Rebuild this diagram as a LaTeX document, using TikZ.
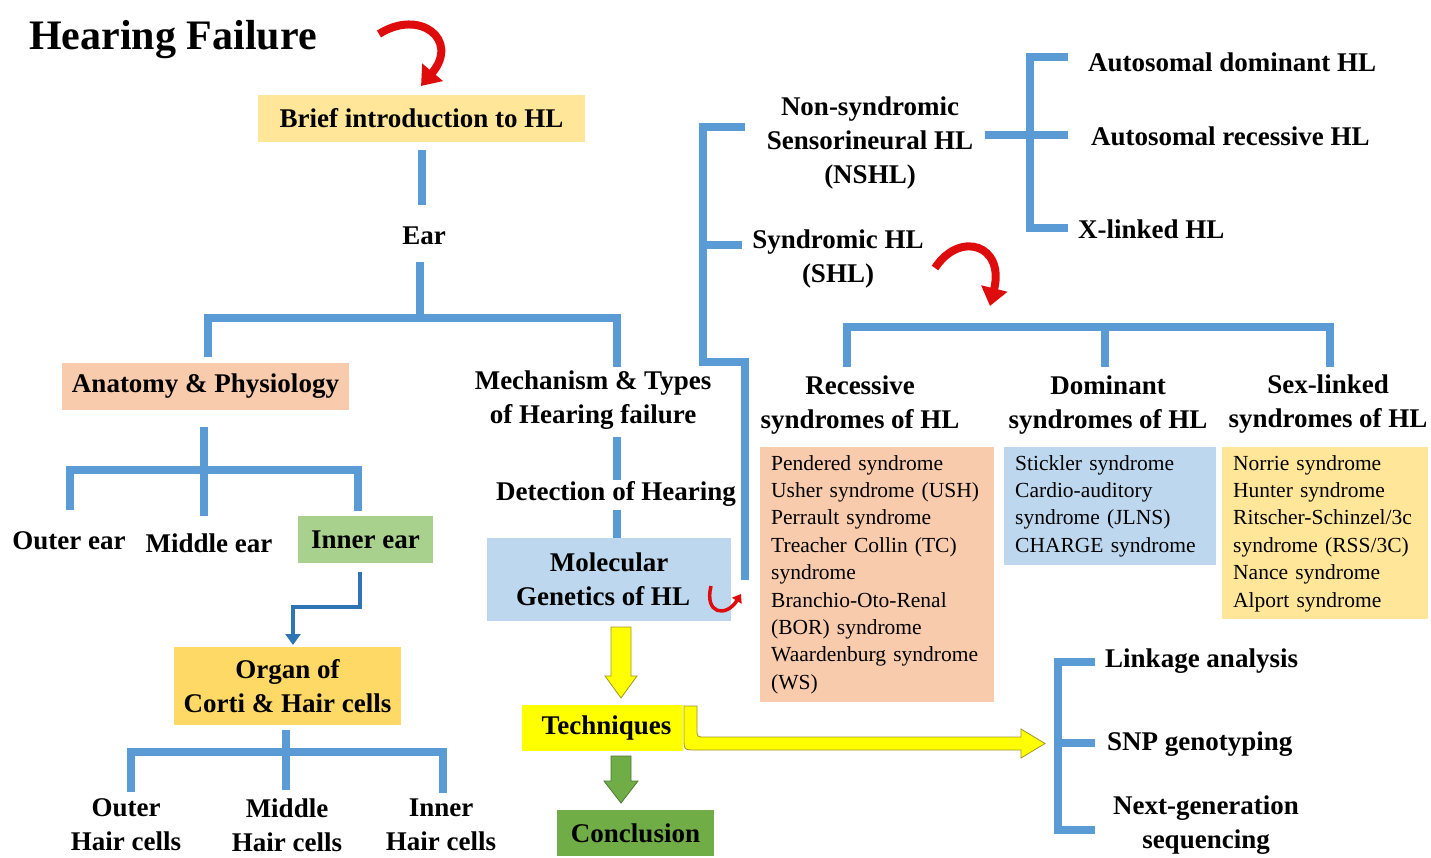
\documentclass[tikz,border=0pt]{standalone}
\usepackage{fontspec}
\setmainfont{Liberation Serif}
\usetikzlibrary{arrows.meta}
\definecolor{barblue}{RGB}{91,155,213}
\definecolor{cLYel}{RGB}{255,230,153}
\definecolor{cPeach}{RGB}{248,203,173}
\definecolor{cGreen}{RGB}{169,209,142}
\definecolor{cGold}{RGB}{255,217,102}
\definecolor{cLBlue}{RGB}{189,215,238}
\definecolor{cYellow}{RGB}{255,255,0}
\definecolor{cDGreen}{RGB}{112,173,71}
\definecolor{cRed}{RGB}{222,12,12}
\definecolor{cArrowBlue}{RGB}{46,117,182}
\definecolor{cOlive}{RGB}{160,150,40}
\begin{document}
\begin{tikzpicture}[x=1pt,y=-1pt,
  lbl/.style={font=\bfseries\fontsize{27}{34}\selectfont, align=center, inner sep=0pt},
  boxn/.style={lbl, inner sep=0pt},
  listn/.style={font=\fontsize{21.5}{27.4}\selectfont, align=left, inner sep=0pt, anchor=north west, text width=230pt},
  bar/.style={line width=8pt, draw=barblue},
  redarr/.style={line width=8pt, draw=cRed, -{Triangle[width=26pt,length=18pt]}},
  blockarr/.style={line width=0.8pt, line join=miter}
]
\useasboundingbox (0,0) rectangle (1431,858);
\fill[white] (0,0) rectangle (1431,858);

% title
\node[lbl, font=\bfseries\fontsize{42}{48}\selectfont] (title) at (173,40) {Hearing Failure};

% left tree
\node[boxn, fill=cLYel, minimum width=327, minimum height=47] (brief) at (421.5,118.5) {Brief introduction to HL};
\node[lbl] (ear) at (424,236) {Ear};
\node[boxn, fill=cPeach, minimum width=287, minimum height=47] (anat) at (205.5,386.5) {Anatomy \& Physiology};
\node[lbl] (mech) at (593,400) {Mechanism \& Types\\of Hearing failure};
\node[lbl] (outer) at (69,541) {Outer ear};
\node[lbl] (middle) at (209,543) {Middle ear};
\node[boxn, fill=cGreen, minimum width=135, minimum height=47] (inner) at (365.5,539.5) {Inner ear};
\node[boxn, fill=cGold, minimum width=227, minimum height=78] (org) at (287.5,686) {Organ of\\Corti \& Hair cells};
\node[lbl] (ohc) at (126,825) {Outer\\Hair cells};
\node[lbl] (mhc) at (287,825) {Middle\\Hair cells};
\node[lbl] (ihc) at (441,825) {Inner\\Hair cells};

% connectors left tree
\coordinate (j1) at (420,318);
\draw[bar] (422,150) -- (422,205);
\draw[bar] (420,262) -- (j1);
\draw[bar] (208,357) -- (208,318) -- (617,318) -- (617,367);
\coordinate (j2) at (204,470);
\draw[bar] (204,427) -- (204,516);
\draw[bar] (70,510) -- (70,470) -- (358,470) -- (358,511);
\draw[line width=4pt, cArrowBlue, -{Triangle[width=15pt,length=11pt]}] (360,572) -- (360,607) -- (293,607) -- (293,645);
\draw[bar] (286,730) -- (286,790);
\draw[bar] (131,792) -- (131,752) -- (443,752) -- (443,793);

% middle column
\node[lbl] (det) at (616,494) {Detection of Hearing};
\draw[bar] (617,437) -- (617,480);
\draw[bar] (617,510) -- (617,538);
\node[boxn, fill=cLBlue, minimum width=244, minimum height=83] (mol) at (609,579.5) {Molecular\\Genetics of HL\hspace*{12pt}};
\node[boxn, fill=cYellow, minimum width=161, minimum height=46] (tech) at (602.5,728) {\hspace*{8pt}Techniques};
\node[boxn, fill=cDGreen, minimum width=157, minimum height=46] (conc) at (635.5,833) {Conclusion};

% block arrows
\draw[blockarr, fill=cYellow, draw=cOlive] (611,627) -- (631,627) -- (631,676) -- (637,676) -- (621,698) -- (605,676) -- (611,676) -- cycle;
\draw[blockarr, fill=cDGreen, draw=cDGreen!70!black] (611,756) -- (631,756) -- (631,781) -- (638,781) -- (621,803) -- (604,781) -- (611,781) -- cycle;
\draw[blockarr, fill=cYellow, draw=cOlive] (684,706) -- (684,738) .. controls (684,750) .. (696,750) -- (1021,750) -- (1021,758) -- (1045,743.5) -- (1021,729) -- (1021,737) -- (705,737) .. controls (697,737) .. (697,729) -- (697,706) -- cycle;

% main bracket
\draw[bar] (745,127) -- (703,127) -- (703,362) -- (745,362) -- (745,580);
\draw[bar] (703,245) -- (742,245);
\draw[line width=3.5pt, cRed, -{Triangle[width=11pt,length=8pt]}] (711,586) .. controls (704,614) and (726,618) .. (741,594);

\node[lbl] (nshl) at (870,143) {Non-syndromic\\Sensorineural HL\\(NSHL)};
\node[lbl] (shl) at (838,259) {Syndromic HL\\(SHL)};

\node[lbl, anchor=west] (ad) at (1088,62) {Autosomal dominant HL};
\node[lbl, anchor=west] (ar) at (1091,136) {Autosomal recessive HL};
\node[lbl, anchor=west] (xl) at (1078,229) {X-linked HL};
\draw[bar] (985,135) -- (1030,135);
\draw[bar] (1068,57) -- (1030,57) -- (1030,228) -- (1068,228);
\draw[bar] (1030,135) -- (1068,135);

% red arrows
\draw[redarr] (379,34) .. controls (420,8) and (460,40) .. (421,86);
\draw[redarr] (935,268) .. controls (960,230) and (1005,245) .. (990,306);

% syndromes
\draw[bar] (847,367) -- (847,327) -- (1330,327) -- (1330,367);
\draw[bar] (1105,327) -- (1105,367);
\node[lbl] (rec) at (860,405) {Recessive\\syndromes of HL};
\node[lbl] (dom) at (1108,405) {Dominant\\syndromes of HL};
\node[lbl] (sex) at (1328,404) {Sex-linked\\syndromes of HL};

\node[fill=cPeach, minimum width=234, minimum height=255, anchor=north west, inner sep=0] (recbox) at (760,447) {};
\node[listn] (reclist) at (771,455) {Pendered syndrome\\Usher syndrome (USH)\\Perrault syndrome\\Treacher Collin (TC)\\syndrome\\Branchio-Oto-Renal\\(BOR) syndrome\\Waardenburg syndrome\\(WS)};
\node[fill=cLBlue, minimum width=212, minimum height=118, anchor=north west, inner sep=0] (dombox) at (1004,447) {};
\node[listn] (domlist) at (1015,455) {Stickler syndrome\\Cardio-auditory\\syndrome (JLNS)\\CHARGE syndrome};
\node[fill=cLYel, minimum width=206, minimum height=172, anchor=north west, inner sep=0] (sexbox) at (1222,447) {};
\node[listn] (sexlist) at (1233,455) {Norrie syndrome\\Hunter syndrome\\Ritscher-Schinzel/3c\\syndrome (RSS/3C)\\Nance syndrome\\Alport syndrome};

% techniques bracket
\draw[bar] (1095,662) -- (1058,662) -- (1058,830) -- (1095,830);
\draw[bar] (1058,743) -- (1095,743);
\node[lbl, anchor=west] (link) at (1105,661) {Linkage analysis};
\node[lbl, anchor=west] (snp) at (1107,744) {SNP genotyping};
\node[lbl] (ngs) at (1206,825) {Next-generation\\sequencing};
\end{tikzpicture}
\end{document}
